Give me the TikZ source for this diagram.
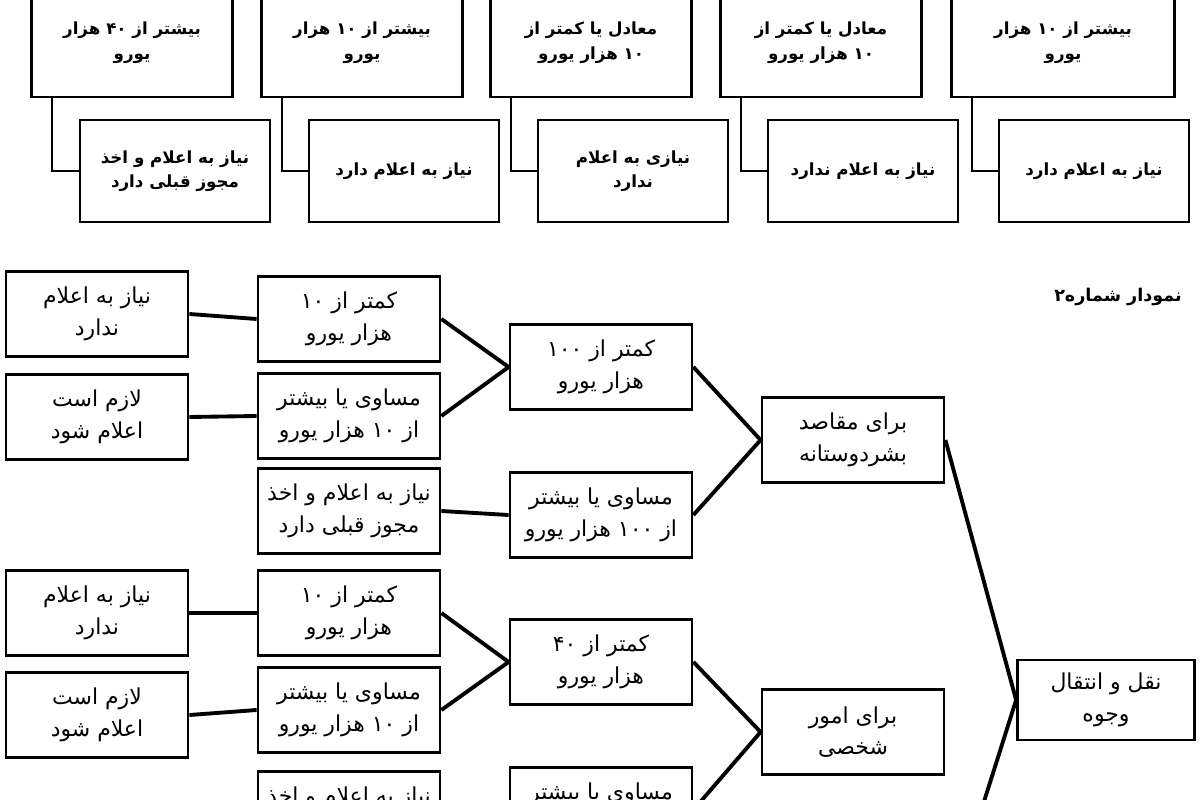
\documentclass[tikz,border=0pt]{standalone}
\usepackage{fontspec}
\newfontfamily\arabicfont[Script=Arabic]{DejaVu Sans}
\TeXXeTstate=1
\usetikzlibrary{positioning,calc}
\newcommand{\fa}[1]{\beginR#1\endR}
\newcommand{\nm}[1]{\beginL#1\endL}

\begin{document}
\begin{tikzpicture}[x=0.02cm, y=-0.02cm,
    box/.style={draw, line width=1.6pt, align=center, inner sep=1pt},
    upbox/.style={box, minimum width=4.02cm, minimum height=2.16cm, font=\arabicfont\bfseries\fontsize{9.5}{14}\selectfont},
    lowbox/.style={box, minimum width=3.8cm, minimum height=2.04cm, font=\arabicfont\bfseries\fontsize{9.5}{14}\selectfont},
    cbox/.style={box, minimum width=3.64cm, minimum height=1.7cm, font=\arabicfont\fontsize{12.5}{18}\selectfont},
    link/.style={line width=2.2pt}]
    \useasboundingbox (0,0) rectangle (1200,800);
    \clip (0,0) rectangle (1200,800);

    % first chart
    \node[upbox] (t1) at (132,43) {\fa{بیشتر از \nm{۴۰} هزار}\\\fa{یورو}};
    \node[upbox] (t2) at (362,43) {\fa{بیشتر از \nm{۱۰} هزار}\\\fa{یورو}};
    \node[upbox] (t3) at (591,43) {\fa{معادل یا کمتر از}\\\fa{\nm{۱۰} هزار یورو}};
    \node[upbox] (t4) at (821,43) {\fa{معادل یا کمتر از}\\\fa{\nm{۱۰} هزار یورو}};
    \node[upbox, minimum width=4.46cm] (t5) at (1063,43) {\fa{بیشتر از \nm{۱۰} هزار}\\\fa{یورو}};

    \node[lowbox] (b1) at (175,171) {\fa{نیاز به اعلام و اخذ}\\\fa{مجوز قبلی دارد}};
    \node[lowbox] (b2) at (404,171) {\fa{نیاز به اعلام دارد}};
    \node[lowbox] (b3) at (633,171) {\fa{نیازی به اعلام}\\\fa{ندارد}};
    \node[lowbox] (b4) at (863,171) {\fa{نیاز به اعلام ندارد}};
    \node[lowbox] (b5) at (1094,171) {\fa{نیاز به اعلام دارد}};

    \foreach \i in {1,...,5}
        \draw[line width=1.4pt] ([xshift=0.44cm]t\i.south west) |- (b\i.west);

    % second chart
    \node[font=\arabicfont\bfseries\fontsize{10}{12}\selectfont] (title) at (1118,297) {\fa{نمودار شماره\nm{۲}}};

    \node[cbox] (a1) at (97,314) {\fa{نیاز به اعلام}\\\fa{ندارد}};
    \node[cbox] (a2) at (97,417) {\fa{لازم است}\\\fa{اعلام شود}};
    \node[cbox] (a3) at (97,613) {\fa{نیاز به اعلام}\\\fa{ندارد}};
    \node[cbox] (a4) at (97,715) {\fa{لازم است}\\\fa{اعلام شود}};

    \node[cbox] (c1) at (349,319) {\fa{کمتر از \nm{۱۰}}\\\fa{هزار یورو}};
    \node[cbox] (c2) at (349,416) {\fa{مساوی یا بیشتر}\\\fa{از \nm{۱۰} هزار یورو}};
    \node[cbox] (c3) at (349,511) {\fa{نیاز به اعلام و اخذ}\\\fa{مجوز قبلی دارد}};
    \node[cbox] (c4) at (349,613) {\fa{کمتر از \nm{۱۰}}\\\fa{هزار یورو}};
    \node[cbox] (c5) at (349,710) {\fa{مساوی یا بیشتر}\\\fa{از \nm{۱۰} هزار یورو}};
    \node[cbox] (c6) at (349,814) {\fa{نیاز به اعلام و اخذ}\\\fa{مجوز قبلی دارد}};

    \node[cbox] (d1) at (601,367) {\fa{کمتر از \nm{۱۰۰}}\\\fa{هزار یورو}};
    \node[cbox] (d2) at (601,515) {\fa{مساوی یا بیشتر}\\\fa{از \nm{۱۰۰} هزار یورو}};
    \node[cbox] (d3) at (601,662) {\fa{کمتر از \nm{۴۰}}\\\fa{هزار یورو}};
    \node[cbox] (d4) at (601,810) {\fa{مساوی یا بیشتر}\\\fa{از \nm{۴۰} هزار یورو}};

    \node[cbox] (e1) at (853,440) {\fa{برای مقاصد}\\\fa{بشردوستانه}};
    \node[cbox] (e2) at (853,732) {\fa{برای امور}\\\fa{شخصی}};

    \node[cbox, minimum width=3.54cm, minimum height=1.6cm] (f1) at (1106,700) {\fa{نقل و انتقال}\\\fa{وجوه}};
    \coordinate (down) at (975,830);

    % connectors
    \draw[link] (a1.east) -- (c1.west);
    \draw[link] (a2.east) -- (c2.west);
    \draw[link] (a3.east) -- (c4.west);
    \draw[link] (a4.east) -- (c5.west);
    \draw[link] (c1.east) -- (d1.west);
    \draw[link] (c2.east) -- (d1.west);
    \draw[link] (c3.east) -- (d2.west);
    \draw[link] (c4.east) -- (d3.west);
    \draw[link] (c5.east) -- (d3.west);
    \draw[link] (c6.east) -- (d4.west);
    \draw[link] (d1.east) -- (e1.west);
    \draw[link] (d2.east) -- (e1.west);
    \draw[link] (d3.east) -- (e2.west);
    \draw[link] (d4.east) -- (e2.west);
    \draw[link] (e1.east) -- (f1.west);
    \draw[link] (f1.west) -- (down);
\end{tikzpicture}
\end{document}
